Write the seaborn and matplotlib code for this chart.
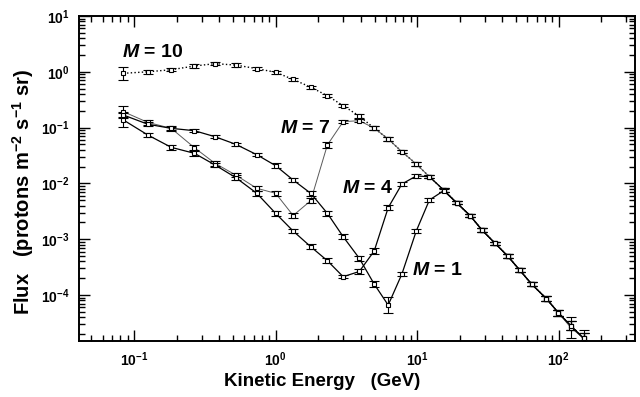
import numpy as np
import pandas as pd
import matplotlib
matplotlib.use("Agg")
import matplotlib.pyplot as plt
import seaborn as sns
from matplotlib.ticker import LogLocator, FuncFormatter, NullFormatter

# ---------------- data ----------------
energy = [0.084, 0.125, 0.183, 0.267, 0.373, 0.523, 0.736, 1.0, 1.33, 1.77,
          2.32, 3.0, 3.9, 4.97, 6.24, 7.8, 9.85, 12.2, 15.4, 19.0,
          23.7, 28.7, 35.5, 43.6, 53.0, 64.5, 81.9, 99.5, 122.0, 150.0]

flux_m10 = [0.94, 1.0, 1.09, 1.27, 1.40, 1.32, 1.14, 0.98, 0.73, 0.53,
            0.373, 0.247, 0.161, 0.098, 0.0625, 0.037, 0.0223, 0.0132, 0.0076, 0.0045,
            0.00264, 0.00146, 0.000845, 0.0005, 0.00028, 0.000156, 8.6e-5, 4.8e-5, 2.8e-5, 1.67e-5]
flux_m7 = [0.193, 0.124, 0.097, 0.0436, 0.0229, 0.0141, 0.00817, 0.00665, 0.00266, 0.0049,
           0.0488, 0.128, 0.133, 0.098, 0.0625, 0.037, 0.0223, 0.0132, 0.0076, 0.0045,
           0.00264, 0.00146, 0.000845, 0.0005, 0.00028, 0.000156, 8.6e-5, 4.8e-5, 2.6e-5, 1.67e-5]
flux_m4 = [0.137, 0.0737, 0.0443, 0.0346, 0.0214, 0.0127, 0.00665, 0.00291, 0.0014, 0.000734,
           0.000412, 0.000213, 0.000264, 0.000615, 0.00367, 0.00975, 0.0136, 0.0132, 0.0076, 0.0045,
           0.00264, 0.00146, 0.000845, 0.0005, 0.00028, 0.000156, 8.6e-5, 4.8e-5, 2.8e-5, 1.67e-5]
flux_m1 = [0.168, 0.115, 0.097, 0.088, 0.0687, 0.0502, 0.0327, 0.0208, 0.0115, 0.00665,
           0.00291, 0.00111, 0.000455, 0.000157, 6.6e-5, 0.000238, 0.0014, 0.00504, 0.0074, 0.0045,
           0.00264, 0.00146, 0.000845, 0.0005, 0.00028, 0.000156, 8.6e-5, 4.8e-5, 2.8e-5, 1.67e-5]

# error bar half-widths, in decades
err_m10 = [0.12, 0.04, 0.03, 0.03, 0.03, 0.03, 0.03, 0.03, 0.03, 0.03,
           0.03, 0.03, 0.03, 0.03, 0.03, 0.03, 0.03, 0.03, 0.03, 0.03,
           0.03, 0.03, 0.03, 0.03, 0.04, 0.04, 0.04, 0.05, 0.08, 0.10]
err_m7 = [0.10, 0.04, 0.04, 0.04, 0.04, 0.04, 0.04, 0.04, 0.05, 0.05,
          0.05, 0.03, 0.03, 0.03, 0.03, 0.03, 0.03, 0.03, 0.03, 0.03,
          0.03, 0.03, 0.03, 0.03, 0.04, 0.04, 0.04, 0.05, 0.19, 0.15]
err_m4 = [0.12, 0.04, 0.04, 0.04, 0.04, 0.04, 0.04, 0.04, 0.04, 0.04,
          0.04, 0.03, 0.04, 0.05, 0.04, 0.03, 0.03, 0.03, 0.03, 0.03,
          0.03, 0.03, 0.03, 0.03, 0.04, 0.04, 0.04, 0.05, 0.08, 0.10]
err_m1 = [0.06, 0.04, 0.03, 0.03, 0.03, 0.03, 0.03, 0.04, 0.04, 0.04,
          0.04, 0.04, 0.04, 0.05, 0.14, 0.04, 0.03, 0.03, 0.03, 0.03,
          0.03, 0.03, 0.03, 0.03, 0.04, 0.04, 0.04, 0.05, 0.08, 0.10]

series_names = ["M = 10", "M = 7", "M = 4", "M = 1"]
series_flux = [flux_m10, flux_m7, flux_m4, flux_m1]
series_err = [err_m10, err_m7, err_m4, err_m1]
line_styles = [":", "-", "-", "-"]
line_colors = ["black", "0.35", "black", "black"]
line_widths = [1.0, 0.7, 0.9, 0.9]

label_pos = [(0.082, 2.26), (1.08, 0.097), (2.94, 0.00817), (9.2, 0.00028)]

# ---------------- style ----------------
sns.set_theme(style="ticks")
plt.rcParams["font.family"] = ["Liberation Sans", "DejaVu Sans"]
plt.rcParams["font.weight"] = "bold"
plt.rcParams["text.color"] = "black"
plt.rcParams["axes.labelcolor"] = "black"
plt.rcParams["xtick.color"] = "black"
plt.rcParams["ytick.color"] = "black"
plt.rcParams["mathtext.fontset"] = "custom"
plt.rcParams["mathtext.rm"] = "Liberation Sans:bold"
plt.rcParams["mathtext.bf"] = "Liberation Sans:bold"
plt.rcParams["mathtext.it"] = "Liberation Sans:italic:bold"
plt.rcParams["mathtext.default"] = "bf"

rows = []
for name, fl in zip(series_names, series_flux):
    for e, f in zip(energy, fl):
        rows.append({"series": name, "energy": e, "flux": f})
df = pd.DataFrame(rows)

fig = plt.figure(figsize=(6.4, 3.97), dpi=100)
ax = fig.add_axes([79 / 640, 1 - 341 / 397, 556 / 640, 325 / 397])
ax.set_xscale("log")
ax.set_yscale("log")

for name, fl, er, ls, c, lw in zip(series_names, series_flux, series_err,
                                    line_styles, line_colors, line_widths):
    sub = df[df["series"] == name]
    sns.lineplot(data=sub, x="energy", y="flux", ax=ax, color=c,
                 linestyle=ls, linewidth=lw, legend=False, estimator=None,
                 sort=False, zorder=2)
    fl_a = np.array(fl)
    er_a = np.array(er)
    lo = fl_a - fl_a * 10 ** (-er_a)
    hi = fl_a * 10 ** (er_a) - fl_a
    ax.errorbar(energy, fl_a, yerr=[lo, hi], fmt="s", ms=3.2, mfc="white",
                mec="black", mew=0.8, ecolor="black", elinewidth=0.8,
                capsize=3.5, capthick=0.8, zorder=3)

for name, (lx, ly) in zip(series_names, label_pos):
    ax.text(lx, ly, r"$\mathit{M}$" + name[1:], fontsize=14, fontweight="bold",
            color="black", ha="left", va="center", zorder=5)

ax.set_xlim(0.0408, 346)
ax.set_ylim(1.5e-5, 10)

ax.xaxis.set_major_locator(LogLocator(base=10, numticks=12))
ax.xaxis.set_minor_locator(LogLocator(base=10, subs=np.arange(2, 10), numticks=12))
ax.yaxis.set_major_locator(LogLocator(base=10, numticks=12))
ax.yaxis.set_minor_locator(LogLocator(base=10, subs=np.arange(2, 10), numticks=12))

fmt = FuncFormatter(lambda v, p: r"$\mathbf{10^{%d}}$" % int(round(np.log10(v))))
ax.xaxis.set_major_formatter(fmt)
ax.yaxis.set_major_formatter(fmt)
ax.xaxis.set_minor_formatter(NullFormatter())
ax.yaxis.set_minor_formatter(NullFormatter())

ax.tick_params(which="both", direction="in", top=True, right=True,
               color="black", width=1.0, labelcolor="black")
ax.tick_params(which="major", length=8, labelsize=10, pad=7)
ax.tick_params(which="minor", length=4)
for s in ax.spines.values():
    s.set_linewidth(1.4)
    s.set_color("black")

ax.set_xlabel("")
ax.set_ylabel("")
fig.text(322 / 640, 1 - 381 / 397, "Kinetic Energy   (GeV)", fontsize=13.5,
         fontweight="bold", color="black", ha="center", va="center")
fig.text(23 / 640, 1 - 192 / 397,
         r"Flux   (protons m$^{-2}$ s$^{-1}$ sr)", fontsize=14.5,
         fontweight="bold", color="black", ha="center", va="center", rotation=90)

fig.savefig("out.png", dpi=100)
